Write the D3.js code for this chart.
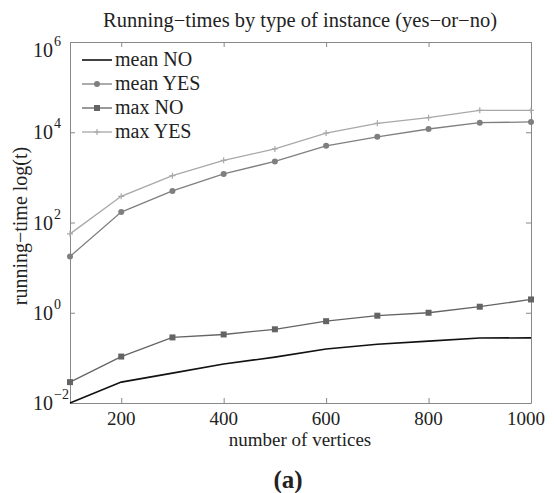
<!DOCTYPE html>
<html>
<head>
<meta charset="utf-8">
<script src="https://cdn.jsdelivr.net/npm/d3@7"></script>
<style>
  body { margin: 0; background: #fff; }
  text { font-family: "Liberation Serif", "Times New Roman", serif; fill: #222; }
</style>
</head>
<body>
<svg id="chart" width="554" height="493"></svg>
<script>
// data
const vertices = [100, 200, 300, 400, 500, 600, 700, 800, 900, 1000];
const meanNo  = [0.010, 0.029, 0.046, 0.073, 0.104, 0.157, 0.20, 0.235, 0.275, 0.278];
const meanYes = [17.7, 170, 500, 1190, 2260, 5000, 7900, 11800, 16300, 16900];
const maxNo   = [0.029, 0.107, 0.284, 0.33, 0.43, 0.65, 0.86, 1.0, 1.36, 1.97];
const maxYes  = [56, 380, 1090, 2390, 4260, 9600, 15800, 21000, 30600, 30600];
const xTicks = [200, 400, 600, 800, 1000];
const yExps = [-2, 0, 2, 4, 6];
const seriesNames = ["mean NO", "mean YES", "max NO", "max YES"];

const svg = d3.select("#chart");
const mLeft = 70, mRight = 531, mTop = 42, mBottom = 403;

const x = d3.scaleLinear().domain([100, 1000]).range([mLeft, mRight]);
const y = d3.scaleLog().domain([1e-2, 1e6]).range([mBottom, mTop]);

// series styles
const series = [
  { name: seriesNames[0], values: meanNo,  color: "#111",    width: 1.6, marker: "none" },
  { name: seriesNames[1], values: meanYes, color: "#7f7f7f", width: 1.3, marker: "circle" },
  { name: seriesNames[2], values: maxNo,   color: "#646464", width: 1.3, marker: "square" },
  { name: seriesNames[3], values: maxYes,  color: "#a8a8a8", width: 1.3, marker: "plus" }
];

// axes box with inward ticks
const axisColor = "#888";
function styleAxis(g) {
  g.select(".domain").attr("stroke", axisColor);
  g.selectAll(".tick line").attr("stroke", axisColor);
  g.selectAll(".tick text").remove();
}
svg.append("g").attr("transform", `translate(0,${mBottom})`)
  .call(d3.axisBottom(x).tickValues(xTicks).tickSize(-5).tickSizeOuter(0)).call(styleAxis);
svg.append("g").attr("transform", `translate(0,${mTop})`)
  .call(d3.axisTop(x).tickValues(xTicks).tickSize(-5).tickSizeOuter(0)).call(styleAxis);
svg.append("g").attr("transform", `translate(${mLeft},0)`)
  .call(d3.axisLeft(y).tickValues(yExps.map(e => Math.pow(10, e))).tickSize(-5).tickSizeOuter(0)).call(styleAxis);
svg.append("g").attr("transform", `translate(${mRight},0)`)
  .call(d3.axisRight(y).tickValues(yExps.map(e => Math.pow(10, e))).tickSize(-5).tickSizeOuter(0)).call(styleAxis);

// x tick labels
svg.append("g").selectAll("text")
  .data(xTicks)
  .join("text")
  .attr("x", d => x(d) - (d === 1000 ? 5 : 0))
  .attr("y", 425)
  .attr("text-anchor", "middle")
  .attr("font-size", 19)
  .text(d => d);

// y tick labels 10^e
const yl = svg.append("g").selectAll("text")
  .data(yExps)
  .join("text")
  .attr("x", 33)
  .attr("y", d => y(Math.pow(10, d)) + 7 + (d === 6 ? 8 : 0))
  .attr("font-size", 20);
yl.append("tspan").text("10");
yl.append("tspan").attr("font-size", 14).attr("dy", -11).attr("dx", 1)
  .text(d => d < 0 ? "\u2212" + (-d) : d);

// lines
const line = d3.line().x((d, i) => x(vertices[i])).y(d => y(d));
svg.append("g").selectAll("path")
  .data(series)
  .join("path")
  .attr("fill", "none")
  .attr("stroke", d => d.color)
  .attr("stroke-width", d => d.width)
  .attr("d", d => line(d.values));

// markers
function drawMarker(g, type, color, cx, cy) {
  if (type === "circle") {
    g.append("circle").attr("cx", cx).attr("cy", cy).attr("r", 3).attr("fill", color);
  } else if (type === "square") {
    g.append("rect").attr("x", cx - 3).attr("y", cy - 3).attr("width", 6).attr("height", 6).attr("fill", color);
  } else if (type === "plus") {
    g.append("path").attr("d", `M${cx - 3},${cy}H${cx + 3}M${cx},${cy - 3}V${cy + 3}`)
      .attr("stroke", color).attr("stroke-width", 1.2);
  }
}
const markerG = svg.append("g");
series.forEach(s => {
  s.values.forEach((v, i) => drawMarker(markerG, s.marker, s.color, x(vertices[i]), y(v)));
});

// legend
const legend = svg.append("g");
series.forEach((s, i) => {
  const ly = 60 + i * 24;
  legend.append("line").attr("x1", 82).attr("x2", 112).attr("y1", ly).attr("y2", ly)
    .attr("stroke", s.color).attr("stroke-width", s.width);
  drawMarker(legend, s.marker, s.color, 97, ly);
  legend.append("text").attr("x", 115).attr("y", ly + 6).attr("font-size", 20).text(s.name);
});

// title and axis labels
svg.append("text").attr("x", 300).attr("y", 27).attr("text-anchor", "middle")
  .attr("font-size", 20.5).text("Running\u2212times by type of instance (yes\u2212or\u2212no)");
svg.append("text").attr("x", 300).attr("y", 446).attr("text-anchor", "middle")
  .attr("font-size", 19).text("number of vertices");
svg.append("text").attr("transform", "translate(27,226) rotate(-90)").attr("text-anchor", "middle")
  .attr("font-size", 20).text("running\u2212time log(t)");
svg.append("text").attr("x", 288).attr("y", 488).attr("text-anchor", "middle")
  .attr("font-size", 25).attr("font-weight", "bold").text("(a)");
</script>
</body>
</html>
